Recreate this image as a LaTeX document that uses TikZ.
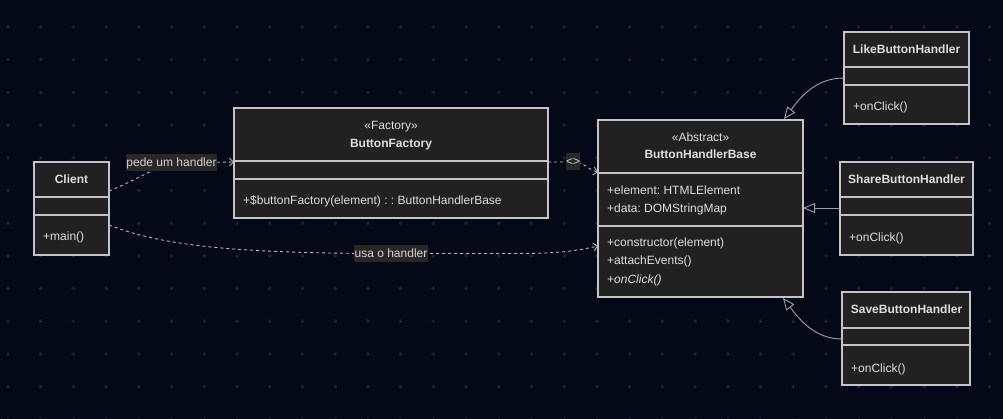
\documentclass[tikz,border=0pt]{standalone}
\usepackage{fontspec}
\setmainfont{Liberation Sans}
\usetikzlibrary{arrows.meta}
\definecolor{bg}{HTML}{040817}
\definecolor{dotcol}{HTML}{1A2030}
\definecolor{boxfill}{HTML}{212121}
\definecolor{boxline}{HTML}{C4C4C4}
\definecolor{txt}{HTML}{DEDEDE}
\definecolor{dashcol}{HTML}{B8B8B8}
\definecolor{inhcol}{HTML}{A0A0A0}
\definecolor{lblbg}{HTML}{282828}
\definecolor{lbltxt}{HTML}{D6D3CC}
\frenchspacing
\begin{document}
\begin{tikzpicture}[x=1pt,y=-1pt,
  font=\fontsize{12}{14}\selectfont\frenchspacing,
  classbox/.style={draw=boxline, fill=boxfill, line width=1.2pt, inner sep=0pt, outer sep=0pt, anchor=north west},
  divider/.style={draw=boxline, line width=1.2pt},
  ttl/.style={text=txt, font=\fontsize{12}{14}\selectfont\bfseries, anchor=base, inner sep=0pt},
  stereo/.style={text=txt, anchor=base, inner sep=0pt},
  member/.style={text=txt, anchor=base west, inner sep=0pt},
  dep/.style={draw=dashcol, line width=0.9pt, dash pattern=on 3pt off 3pt, -{Straight Barb[length=4pt,width=8pt]}},
  inh/.style={draw=inhcol, line width=0.9pt, -{Triangle[open, length=12pt, width=10pt]}},
  elabel/.style={fill=lblbg, text=lbltxt, inner xsep=0.5pt, inner ysep=0pt, minimum height=17pt}
]
\fill[bg] (0,0) rectangle (1003,419);
\useasboundingbox (0,0) rectangle (1003,419);
% dot grid
\foreach \i in {0,...,30}{
  \foreach \j in {0,...,12}{
    \fill[dotcol] ({8+32.72*\i},{27+32.7*\j}) +(-2,0) -- +(0,-2) -- +(2,0) -- +(0,2) -- cycle;
  }
}
% ---------- classes ----------
% Client
\node[classbox, minimum width=75pt, minimum height=93pt] (client) at (34,162) {};
\draw[divider] (client.west |- 0,197) -- (client.east |- 0,197);
\draw[divider] (client.west |- 0,215) -- (client.east |- 0,215);
\node[ttl] (clientT) at (71.5,184) {Client};
\node[member] (clientM) at (43,241) {+main()};
% ButtonFactory
\node[classbox, minimum width=314pt, minimum height=110pt] (factory) at (234,108) {};
\draw[divider] (factory.west |- 0,161) -- (factory.east |- 0,161);
\draw[divider] (factory.west |- 0,179) -- (factory.east |- 0,179);
\node[stereo] (factoryS) at (391,130) {«Factory»};
\node[ttl] (factoryT) at (391,148) {ButtonFactory};
\node[member] (factoryM) at (243,205) {+\$buttonFactory(element) : : ButtonHandlerBase};
% ButtonHandlerBase
\node[classbox, minimum width=205pt, minimum height=177pt] (base) at (598,120) {};
\draw[divider] (base.west |- 0,173) -- (base.east |- 0,173);
\draw[divider] (base.west |- 0,226) -- (base.east |- 0,226);
\node[stereo] (baseS) at (700.5,142) {«Abstract»};
\node[ttl] (baseT) at (700.5,158.5) {ButtonHandlerBase};
\node[member] (baseA1) at (607,195) {+element: HTMLElement};
\node[member] (baseA2) at (607,213) {+data: DOMStringMap};
\node[member] (baseM1) at (607,247) {+constructor(element)};
\node[member] (baseM2) at (607,265) {+attachEvents()};
\node[member] (baseM3) at (607,284) {\textit{+onClick()}};
% LikeButtonHandler
\node[classbox, minimum width=125pt, minimum height=92pt] (like) at (844,32) {};
\draw[divider] (like.west |- 0,67) -- (like.east |- 0,67);
\draw[divider] (like.west |- 0,85) -- (like.east |- 0,85);
\node[ttl] (likeT) at (906.5,54) {LikeButtonHandler};
\node[member] (likeM) at (853,111) {+onClick()};
% ShareButtonHandler
\node[classbox, minimum width=133pt, minimum height=93pt] (share) at (840,162) {};
\draw[divider] (share.west |- 0,197) -- (share.east |- 0,197);
\draw[divider] (share.west |- 0,215) -- (share.east |- 0,215);
\node[ttl] (shareT) at (906.5,183.5) {ShareButtonHandler};
\node[member] (shareM) at (849,242) {+onClick()};
% SaveButtonHandler
\node[classbox, minimum width=128pt, minimum height=93pt] (save) at (842,292) {};
\draw[divider] (save.west |- 0,328) -- (save.east |- 0,328);
\draw[divider] (save.west |- 0,345) -- (save.east |- 0,345);
\node[ttl] (saveT) at (906.5,314) {SaveButtonHandler};
\node[member] (saveM) at (851,372) {+onClick()};
% ---------- connectors ----------
\coordinate (l1c) at (171.5,163);
\coordinate (l2c) at (573,162);
\coordinate (l3c) at (391,253.5);
\draw[dep] (client.east |- 0,191) .. controls (130,183) and (150,170) .. (l1c) -- (factory.west |- 0,162);
\node[elabel] (l1) at (l1c) {pede um handler};
\draw[dep] (factory.east |- 0,162) -- (l2c) .. controls (585,162) and (588,170) .. (base.west |- 0,172);
\node[elabel, inner xsep=0pt] (l2) at (l2c) {<>};
\draw[dep] (client.east |- 0,225) .. controls (160,245) and (230,253.5) .. (l3c) -- (520,253.5) .. controls (562,253.5) and (580,250) .. (base.west |- 0,246);
\node[elabel] (l3) at (l3c) {usa o handler};
% inheritance
\draw[inh] (like.west |- 0,78) .. controls (815,78) and (800,98) .. (784,119);
\draw[inh] (share.west |- 0,208) -- (base.east |- 0,208);
\draw[inh] (save.west |- 0,339) .. controls (815,339) and (800,320) .. (783,298);
\end{tikzpicture}
\end{document}
